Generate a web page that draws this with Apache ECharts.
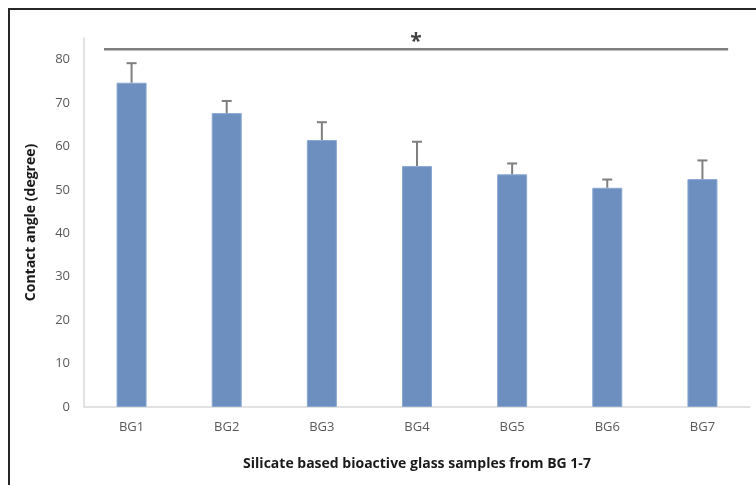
<!DOCTYPE html>
<html>
<head>
<meta charset="utf-8">
<script src="https://cdn.jsdelivr.net/npm/echarts@6/dist/echarts.min.js"></script>
<style>
  html, body { margin: 0; padding: 0; background: #fff; }
  #chart { width: 756px; height: 485px; }
</style>
</head>
<body>
<div id="chart"></div>
<script>
// Contact angle of silicate-based bioactive glasses BG1–BG7 (mean ± SD)
const categories = ['BG1', 'BG2', 'BG3', 'BG4', 'BG5', 'BG6', 'BG7'];
const meanAngle = [74.7, 67.7, 61.5, 55.5, 53.6, 50.5, 52.5];
const sdAngle = [4.5, 2.8, 4.1, 5.6, 2.5, 1.9, 4.3];
const yTicks = [0, 10, 20, 30, 40, 50, 60, 70, 80];

// Significance bracket spanning all groups (position on a 0–7 helper axis)
const sigSpan = [0.21, 6.77];
const sigLevel = 82.4;
const sigMark = '*';

const labelFont = '"Open Sans", "Noto Sans", sans-serif';

const chart = echarts.init(document.getElementById('chart'), null, { renderer: 'canvas' });

const errorData = categories.map((c, i) => [i, meanAngle[i], meanAngle[i] + sdAngle[i]]);

chart.setOption({
  animation: false,
  backgroundColor: '#fff',
  grid: { left: 84, right: 6, top: 38, bottom: 78, containLabel: false },
  graphic: [{
    type: 'rect',
    shape: { x: 9, y: 9, width: 800, height: 600 },
    style: { fill: 'none', stroke: '#262626', lineWidth: 2 },
    silent: true,
    z: 100
  }],
  xAxis: [{
    type: 'category',
    data: categories,
    boundaryGap: true,
    axisLine: { lineStyle: { color: '#d9d9d9', width: 1.5 } },
    axisTick: { show: false },
    axisLabel: { color: '#595959', fontSize: 13, fontFamily: labelFont, margin: 14 },
    name: 'Silicate based bioactive glass samples from BG 1-7',
    nameLocation: 'middle',
    nameGap: 50,
    nameTextStyle: { color: '#1a1a1a', fontSize: 14, fontWeight: 'bold', fontFamily: labelFont }
  }, {
    type: 'value',
    min: 0, max: 7,
    show: false
  }],
  yAxis: {
    type: 'value',
    min: 0, max: 85, interval: 10,
    axisLine: { show: true, lineStyle: { color: '#d9d9d9', width: 1.5 } },
    axisTick: { show: false },
    splitLine: { show: false },
    axisLabel: {
      color: '#595959', fontSize: 13, fontFamily: labelFont, margin: 14,
      showMaxLabel: false,
      formatter: v => (yTicks.indexOf(v) >= 0 ? String(v) : '')
    },
    name: 'Contact angle (degree)',
    nameLocation: 'middle',
    nameGap: 46,
    nameRotate: 90,
    nameTextStyle: { color: '#1a1a1a', fontSize: 14, fontWeight: 'bold', fontFamily: labelFont }
  },
  series: [{
    type: 'bar',
    data: meanAngle,
    barWidth: 30,
    itemStyle: { color: '#6d8fbf', borderColor: '#8aa8d2', borderWidth: 1 },
    z: 2
  }, {
    type: 'custom',
    data: errorData,
    z: 3,
    renderItem: function (params, api) {
      const base = api.coord([api.value(0), api.value(1)]);
      const top = api.coord([api.value(0), api.value(2)]);
      const cap = 5;
      const style = { stroke: '#7f7f7f', lineWidth: 2 };
      return {
        type: 'group',
        children: [
          { type: 'line', shape: { x1: base[0], y1: base[1], x2: top[0], y2: top[1] }, style },
          { type: 'line', shape: { x1: top[0] - cap, y1: top[1], x2: top[0] + cap, y2: top[1] }, style }
        ]
      };
    }
  }, {
    type: 'line',
    xAxisIndex: 1,
    data: [[sigSpan[0], sigLevel], [sigSpan[1], sigLevel]],
    symbol: 'none',
    lineStyle: { color: '#7f7f7f', width: 2.5 },
    z: 4
  }, {
    type: 'scatter',
    xAxisIndex: 1,
    data: [[(sigSpan[0] + sigSpan[1]) / 2, sigLevel]],
    symbolSize: 0,
    label: {
      show: true,
      position: 'top',
      distance: 0,
      offset: [0, 3],
      formatter: sigMark,
      color: '#111',
      fontSize: 21,
      fontWeight: 'bold',
      fontFamily: labelFont
    },
    z: 5
  }]
});
</script>
</body>
</html>
